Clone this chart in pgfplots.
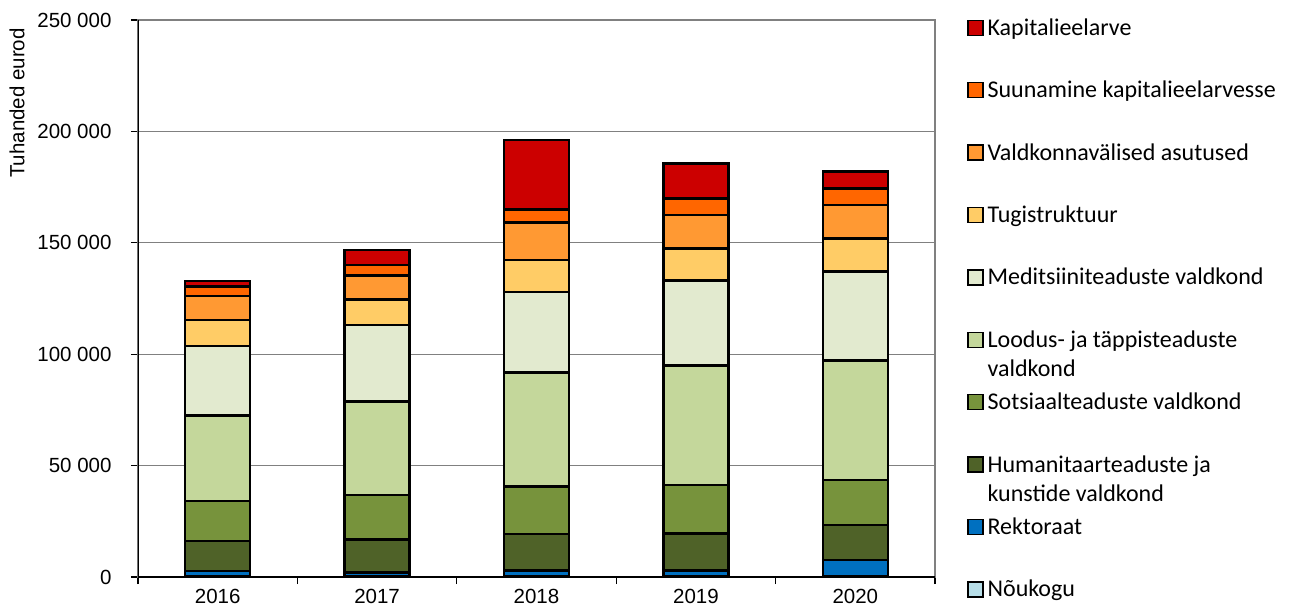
\documentclass[border=0pt]{standalone}
\usepackage{pgfplots}
\pgfplotsset{compat=1.18}
\usepackage{pgfplotstable}
\usepackage{fontspec}
\setmainfont{Liberation Sans}
\newfontfamily\legfont{Carlito}

\definecolor{cKap}{HTML}{CC0000}
\definecolor{cSuun}{HTML}{FF6600}
\definecolor{cValdk}{HTML}{FF9933}
\definecolor{cTugi}{HTML}{FFCC66}
\definecolor{cMed}{HTML}{E2EACF}
\definecolor{cLood}{HTML}{C4D79B}
\definecolor{cSots}{HTML}{77933C}
\definecolor{cHum}{HTML}{4F6228}
\definecolor{cRekt}{HTML}{0070C0}
\definecolor{cNou}{HTML}{B7DEE8}

\pgfplotstableread{
x nou rekt hum sots lood med tugi valdk suun kap
0 200 2500 13500 18000 38200 31300 11600 10800 4200 2500
1 200 1900 14800 19900 41900 34400 11500 10600 4800 6800
2 200 2600 16500 21200 51400 36100 14300 16700 6000 31100
3 200 2600 16800 21700 53500 38200 14500 15000 7500 15700
4 200 7400 15700 20200 53600 39900 15000 15000 7400 7500
}\data

\begin{document}
\begin{tikzpicture}
\begin{axis}[
  scale only axis, width=797bp, height=557bp,
  ybar stacked, bar width=65bp,
  xmin=-0.5, xmax=4.5, ymin=0, ymax=250000,
  xtick={0,...,4}, xticklabels={2016,2017,2018,2019,2020},
  minor xtick={-0.5,0.5,...,4.5},
  ytick={0,50000,100000,150000,200000,250000},
  yticklabels={0,50\ 000,100\ 000,150\ 000,200\ 000,250\ 000},
  minor ytick={0,50000,100000,150000,200000,250000},
  major tick length=0pt, minor tick length=7bp, tick align=outside,
  xtick pos=bottom, ytick pos=left,
  tick style={black, line width=1.2bp},
  ymajorgrids, major grid style={black!50, line width=1.1bp},
  axis line style={black!50, line width=1.1bp},
  scaled y ticks=false,
  ticklabel style={font=\fontsize{20.5bp}{24bp}\selectfont},
  yticklabel style={xshift=-23bp},
  xticklabel style={yshift=-9bp},
  ylabel={Tuhanded eurod},
  ylabel style={at={(rel axis cs:0,1)}, xshift=-8bp, yshift=121bp, anchor=east, inner sep=0pt, font=\fontsize{20.5bp}{24bp}\selectfont},
  reverse legend,
  legend image code/.code={\draw[#1, draw=black, line width=1.4bp] (0bp,0bp) rectangle (15bp,15bp);},
  legend style={at={(1,1)}, anchor=north west, xshift=32bp, yshift=1bp, draw=none, fill=none,
    inner sep=0pt, row sep=0pt, column sep=4bp,
    font=\legfont\fontsize{24bp}{29bp}\selectfont,
    cells={anchor=base west},
    nodes={inner sep=0pt, text height=16bp, text depth=46.4bp}},
  every axis plot/.append style={draw=black, line width=2.6bp},
]
\addplot[fill=cNou] table[x=x,y=nou]{\data};
\addlegendentry{Nõukogu}
\addplot[fill=cRekt] table[x=x,y=rekt]{\data};
\addlegendentry{Rektoraat}
\addplot[fill=cHum] table[x=x,y=hum]{\data};
\addlegendentry{\vtop{\hbox{Humanitaarteaduste ja}\hbox{kunstide valdkond}}}
\addplot[fill=cSots] table[x=x,y=sots]{\data};
\addlegendentry{Sotsiaalteaduste valdkond}
\addplot[fill=cLood] table[x=x,y=lood]{\data};
\addlegendentry{\vtop{\hbox{Loodus- ja täppisteaduste}\hbox{valdkond}}}
\addplot[fill=cMed] table[x=x,y=med]{\data};
\addlegendentry{Meditsiiniteaduste valdkond}
\addplot[fill=cTugi] table[x=x,y=tugi]{\data};
\addlegendentry{Tugistruktuur}
\addplot[fill=cValdk] table[x=x,y=valdk]{\data};
\addlegendentry{Valdkonnavälised asutused}
\addplot[fill=cSuun] table[x=x,y=suun]{\data};
\addlegendentry{Suunamine kapitalieelarvesse}
\addplot[fill=cKap] table[x=x,y=kap]{\data};
\addlegendentry{Kapitalieelarve}
\draw[black, line width=1.3bp] (rel axis cs:0,1) -- (rel axis cs:0,0) -- (rel axis cs:1,0);
\end{axis}
\pgfresetboundingbox
\path (current axis.south west) ++(-138bp,-36bp) rectangle ++(1292bp,613bp);
\end{tikzpicture}
\end{document}
